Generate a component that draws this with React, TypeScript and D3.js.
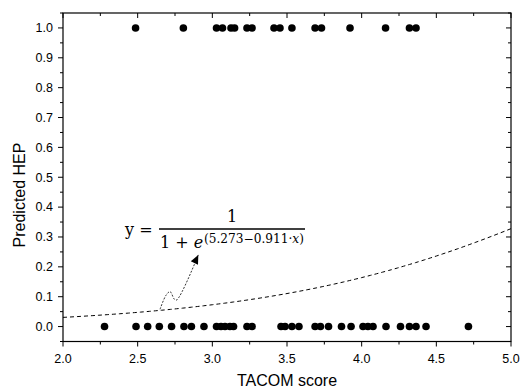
import React from 'react';
import * as d3 from 'd3';

// TACOM scores of the observed cases (HEP = 1 and HEP = 0)
const errorScores = [2.486, 2.806, 3.028, 3.068, 3.125, 3.149, 3.232, 3.266, 3.413, 3.453, 3.533, 3.688, 3.731, 3.922, 4.16, 4.32, 4.364];
const successScores = [2.278, 2.489, 2.567, 2.645, 2.727, 2.81, 2.86, 2.944, 3.028, 3.058, 3.085, 3.118, 3.142, 3.232, 3.266, 3.46, 3.487, 3.533, 3.58, 3.688, 3.724, 3.778, 3.865, 3.929, 4.009, 4.042, 4.076, 4.163, 4.26, 4.32, 4.364, 4.431, 4.715];

// logistic model coefficients
const intercept = 5.273;
const slope = 0.911;

const xTicks = [2.0, 2.5, 3.0, 3.5, 4.0, 4.5, 5.0];
const yTicks = [0.0, 0.1, 0.2, 0.3, 0.4, 0.5, 0.6, 0.7, 0.8, 0.9, 1.0];

// annotation arrow (data coords), with the small squiggle
const arrowPts: [number, number][] = [[2.65, 0.058], [2.69, 0.105], [2.717, 0.117], [2.745, 0.092], [2.761, 0.089], [2.906, 0.24]];

const W = 521;
const H = 389;
const margin = { left: 63, right: 10, top: 13, bottom: 47.5 };

const App = () => {
  const x = d3.scaleLinear().domain([2, 5]).range([margin.left, W - margin.right]);
  const y = d3.scaleLinear().domain([-0.05, 1.05]).range([H - margin.bottom, margin.top]);

  const x0 = margin.left, x1 = W - margin.right;
  const y0 = H - margin.bottom, y1 = margin.top;

  const xAll = d3.range(0, 13).map(i => 2 + i * 0.25);
  const yAll = d3.range(0, 23).map(i => -0.05 + i * 0.05);
  const isMajorX = (v: number) => Math.abs(v * 2 - Math.round(v * 2)) < 1e-6;
  const isMajorY = (v: number) => Math.abs(v * 10 - Math.round(v * 10)) < 1e-6;

  const fit = (v: number) => 1 / (1 + Math.exp(intercept - slope * v));
  const curve = d3.line<number>().x(d => x(d)).y(d => y(fit(d)))(d3.range(2, 5.001, 0.02));
  const arrow = d3.line<[number, number]>().x(d => x(d[0])).y(d => y(d[1])).curve(d3.curveCatmullRom)(arrowPts);

  const tip = arrowPts[arrowPts.length - 1];
  const prev = arrowPts[arrowPts.length - 2];
  const ang = Math.atan2(y(tip[1]) - y(prev[1]), x(tip[0]) - x(prev[0])) * 180 / Math.PI;

  const font = '"Liberation Sans", Arial, sans-serif';
  const serif = '"DejaVu Serif", "Liberation Serif", serif';

  return (
    <svg width={W} height={H} style={{ position: 'absolute', left: 0, top: 0, background: '#fff' }}>
      {/* frame */}
      <rect x={x0} y={y1} width={x1 - x0} height={y0 - y1} fill="none" stroke="#000" strokeWidth={1.2} />

      {/* x ticks bottom (out) and top (in) */}
      {xAll.map((v, i) => {
        const len = isMajorX(v) ? 5 : 3;
        return (
          <g key={'xt' + i} stroke="#000" strokeWidth={1}>
            <line x1={x(v)} x2={x(v)} y1={y0} y2={y0 + len} />
            <line x1={x(v)} x2={x(v)} y1={y1} y2={y1 + len} />
          </g>
        );
      })}
      {/* y ticks left (out) and right (in) */}
      {yAll.map((v, i) => {
        const len = isMajorY(v) ? 5 : 3;
        return (
          <g key={'yt' + i} stroke="#000" strokeWidth={1}>
            <line x1={x0 - len} x2={x0} y1={y(v)} y2={y(v)} />
            <line x1={x1 - len} x2={x1} y1={y(v)} y2={y(v)} />
          </g>
        );
      })}

      {xTicks.map(v => (
        <text key={'xl' + v} x={x(v)} y={y0 + 21.5} textAnchor="middle" fontFamily={font} fontSize={12.5}>
          {v.toFixed(1)}
        </text>
      ))}
      {yTicks.map(v => (
        <text key={'yl' + v} x={x0 - 10} y={y(v)} dy="0.35em" textAnchor="end" fontFamily={font} fontSize={12.5}>
          {v.toFixed(1)}
        </text>
      ))}

      <text x={(x0 + x1) / 2} y={386} textAnchor="middle" fontFamily={font} fontSize={16}>TACOM score</text>
      <text transform={`translate(25,${195}) rotate(-90)`} textAnchor="middle" fontFamily={font} fontSize={16}>Predicted HEP</text>

      {/* fitted logistic curve */}
      <path d={curve || ''} fill="none" stroke="#000" strokeWidth={1} strokeDasharray="4,3" />

      {/* observations */}
      {errorScores.map((v, i) => (
        <circle key={'e' + i} cx={x(v)} cy={y(1)} r={3.8} fill="#000" />
      ))}
      {successScores.map((v, i) => (
        <circle key={'s' + i} cx={x(v)} cy={y(0)} r={3.8} fill="#000" />
      ))}

      {/* annotation arrow */}
      <path d={arrow || ''} fill="none" stroke="#000" strokeWidth={0.8} strokeDasharray="2,1.5" />
      <path d="M0,0 L-9,-4 L-9,4 Z" fill="#000" transform={`translate(${x(tip[0])},${y(tip[1])}) rotate(${ang})`} />

      {/* formula */}
      <g fontFamily={serif} fill="#000">
        <text x={125} y={235} fontSize={16}>y =</text>
        <text x={232} y={222} fontSize={16} textAnchor="middle">1</text>
        <line x1={159} x2={305} y1={229} y2={229} stroke="#000" strokeWidth={1.4} />
        <text x={160} y={248} fontSize={16}>1 + <tspan fontStyle="italic">e</tspan></text>
        <text x={204} y={243} fontSize={12} textLength={100} lengthAdjust="spacingAndGlyphs">(5.273−0.911·<tspan fontStyle="italic">x</tspan>)</text>
      </g>
    </svg>
  );
};

export default App;
